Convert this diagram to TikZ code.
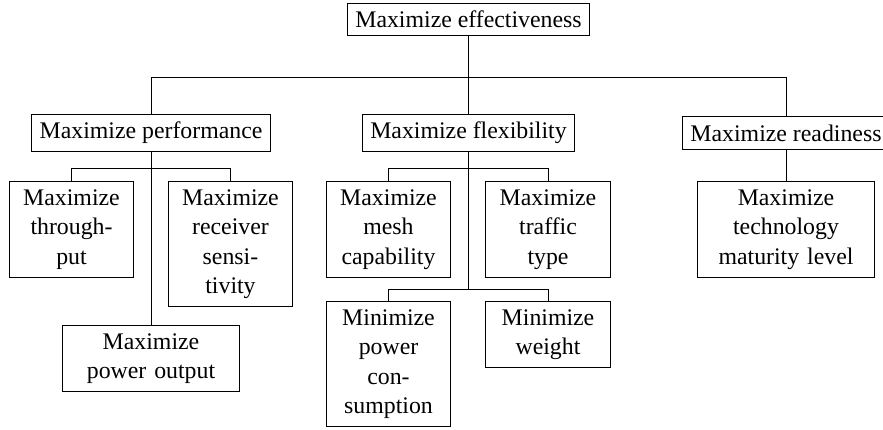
\documentclass[tikz,border=0pt]{standalone}
\usepackage{fontspec}
\setmainfont{Liberation Serif}
\usepackage{tikz}
\usetikzlibrary{calc}
\tikzset{
	goalbox/.style={draw, inner sep=3.333pt, font=\fontsize{10}{12.4}\selectfont},
	leafbox/.style={goalbox, anchor=north, align=center, text width=45.8pt},
	wideleaf/.style={leafbox, text width=67.5pt}
}

\begin{document}
\begin{tikzpicture}[x=0.42pt, y=-0.42pt]
			%%%%% START %%%%%
			
			\useasboundingbox (0, 0) rectangle (883, 429);
			
			% top goal and the three branches
			\node[goalbox] (eff) at (468.5, 19.5) {Maximize effectiveness};
			\node[goalbox] (perf) at (151, 133) {Maximize performance};
			\node[goalbox] (flex) at (468.5, 133) {Maximize flexibility};
			\node[goalbox] (ready) at (786, 133) {Maximize readiness};
			
			% performance leaves
			\node[leafbox] (thru) at (71.5, 181) {Maximize\\ through-\\ put};
			\node[leafbox] (recv) at (230.5, 181) {Maximize\\ receiver\\ sensi-\\ tivity};
			\node[wideleaf] (pwrout) at (151, 325) {Maximize\\ power output};
			
			% flexibility leaves
			\node[leafbox] (mesh) at (388.5, 181) {Maximize\\ mesh\\ capability};
			\node[leafbox] (traffic) at (548, 181) {Maximize\\ traffic\\ type};
			\node[leafbox] (consum) at (388.5, 301) {Minimize\\ power\\ con-\\ sumption};
			\node[leafbox] (weight) at (548, 301) {Minimize\\ weight};
			
			% readiness leaf
			\node[wideleaf] (tech) at (786, 181) {Maximize\\ technology\\ maturity level};
			
			% junctions
			\coordinate (topbus) at (468.5, 77);
			\coordinate (perfbus) at (151, 168);
			\coordinate (flexbus) at (468.5, 168);
			\coordinate (minbus) at (468.5, 289);
			
			\draw (eff.south) -- (flex.north);
			\draw (perf.north) |- (topbus) -| (ready.north);
			
			\draw (perf.south) -- (pwrout.north);
			\draw (thru.north) |- (perfbus) -| (recv.north);
			
			\draw (flex.south) -- (minbus);
			\draw (mesh.north) |- (flexbus) -| (traffic.north);
			\draw (consum.north) |- (minbus) -| (weight.north);
			
			\draw (ready.south) -- (tech.north);
			
			%%%%% END %%%%%
\end{tikzpicture}
\end{document}
